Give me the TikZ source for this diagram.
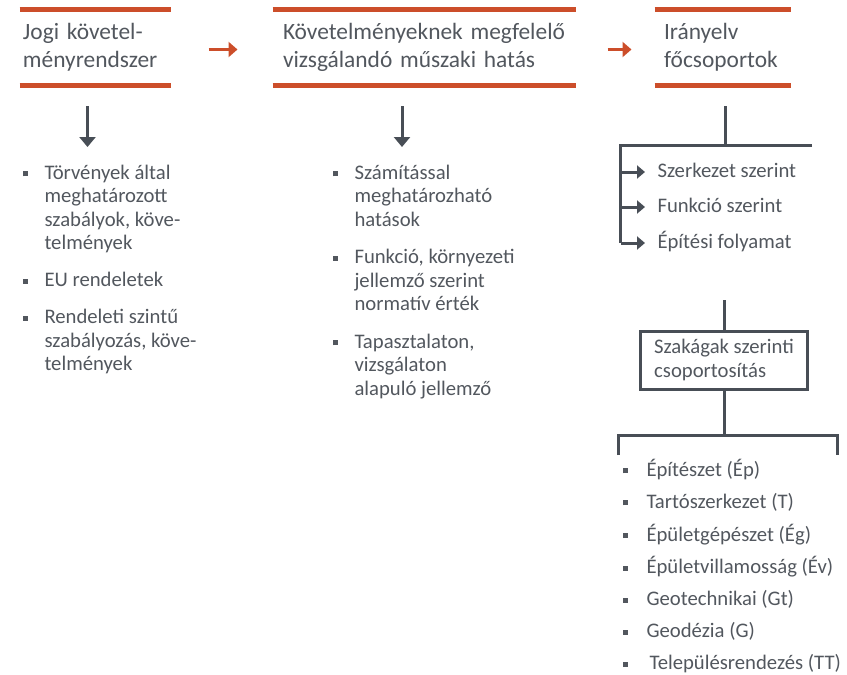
\documentclass[tikz,border=0pt]{standalone}
\usepackage{fontspec}
\setmainfont{Carlito}
\usepackage{xcolor}
\usetikzlibrary{arrows.meta,positioning}
\definecolor{hdred}{RGB}{204,78,42}
\definecolor{txtgray}{RGB}{82,87,94}
\definecolor{lngray}{RGB}{72,78,86}
\newcommand{\bsq}{\rule[3pt]{5pt}{5pt}}

\begin{document}
\begin{tikzpicture}[x=1pt, y=-1pt, font=\fontsize{20.7}{23.5}\selectfont, color=lngray, text=txtgray, line width=3pt]
	\useasboundingbox (0,0) rectangle (847,675);
	\tikzstyle{head} = [minimum height=73pt, inner ysep=0pt, align=left, font=\fontsize{23.4}{28}\selectfont]
	\tikzstyle{redline} = [hdred, line width=4.5pt]
	\tikzstyle{redarrow} = [hdred, line width=3pt, -{Triangle[length=9pt,width=15pt]}]
	\tikzstyle{downarrow} = [-{Triangle[length=10pt,width=16pt]}]
	\tikzstyle{subarrow} = [-{Triangle[length=8pt,width=13pt]}]
	\tikzstyle{blist} = [anchor=north west, inner sep=0pt]
	\tikzstyle{sub} = [anchor=west, inner sep=0pt, text height=14pt, text depth=4pt]

	\node (jogi) [head, text width=144pt, inner xsep=2pt] at (95,47.5) {Jogi követel-\\ményrendszer};
	\node (hatas) [head, text width=282pt, inner xsep=9pt] at (424,47.5) {Követelményeknek megfelelő\\vizsgálandó műszaki hatás};
	\node (iranyelv) [head, text width=117pt, inner xsep=8pt] at (722.5,47.5) {Irányelv\\főcsoportok};
	\foreach \n in {jogi,hatas,iranyelv} {
		\draw[redline] (\n.north west) -- (\n.north east);
		\draw[redline] (\n.south west) -- (\n.south east);
	}
	\draw[redarrow, shorten <=38pt, shorten >=35pt] ([yshift=-2pt]jogi.east) -- ([yshift=-2pt]hatas.west);
	\draw[redarrow, shorten <=32pt, shorten >=23pt] ([yshift=-2pt]hatas.east) -- ([yshift=-2pt]iranyelv.west);

	\coordinate (jogitop) at (87.5,106);
	\coordinate (jogibot) at (87.5,147);
	\coordinate (hatastop) at (402,106);
	\coordinate (hatasbot) at (402,147);
	\draw[downarrow] (jogitop) -- (jogibot);
	\draw[downarrow] (hatastop) -- (hatasbot);

	\node (jogilist) [blist] at (21,161.5) {\begin{tabular}{@{}l@{\hspace{17pt}}l@{}}
		\bsq & Törvények által\\
		     & meghatározott\\
		     & szabályok, köve-\\
		     & telmények\\[13.5pt]
		\bsq & EU rendeletek\\[13.5pt]
		\bsq & Rendeleti szintű\\
		     & szabályozás, köve-\\
		     & telmények
	\end{tabular}};
	\node (hataslist) [blist] at (331,161.5) {\begin{tabular}{@{}l@{\hspace{17pt}}l@{}}
		\bsq & Számítással\\
		     & meghatározható\\
		     & hatások\\[14pt]
		\bsq & Funkció, környezeti\\
		     & jellemző szerint\\
		     & normatív érték\\[14pt]
		\bsq & Tapasztalaton,\\
		     & vizsgálaton\\
		     & alapuló jellemző
	\end{tabular}};

	\coordinate (irtop) at (725,106);
	\coordinate (irmid) at (725,145);
	\coordinate (brl) at (620.5,145);
	\coordinate (brr) at (812,145);
	\node (szerk) [sub] at (656,172) {Szerkezet szerint};
	\node (funk) [sub] at (656,207) {Funkció szerint};
	\node (epit) [sub] at (656,243) {Építési folyamat};
	\draw (irtop) -- (irmid);
	\draw (brr) -- (brl) -- (brl |- epit.west);
	\foreach \n in {szerk,funk,epit}
		\draw[subarrow, shorten >=11pt] (brl |- \n.west) -- (\n.west);

	\node (szak) [draw, minimum width=167pt, minimum height=58pt, align=left, inner xsep=12pt] at (724,360) {Szakágak szerinti\\csoportosítás};
	\draw (szak.north) -- ++(0,-30);
	\coordinate (br2l) at (618,435);
	\coordinate (br2r) at (837,435);
	\draw (szak.south) -- (szak.south |- br2l);
	\draw ([yshift=-20pt]br2l) -- (br2l) -- (br2r) -- ([yshift=-20pt]br2r);

	\node (szaklist) [blist] at (621,457.5) {\begin{tabular}{@{}l@{\hspace{19pt}}l@{}}
		\bsq & Építészet (Ép)\\[8.5pt]
		\bsq & Tartószerkezet (T)\\[8.5pt]
		\bsq & Épületgépészet (Ég)\\[8.5pt]
		\bsq & Épületvillamosság (Év)\\[8.5pt]
		\bsq & Geotechnikai (Gt)\\[8.5pt]
		\bsq & Geodézia (G)\\[8.5pt]
		\bsq & \hspace{3pt}Településrendezés (TT)
	\end{tabular}};
\end{tikzpicture}
\end{document}
